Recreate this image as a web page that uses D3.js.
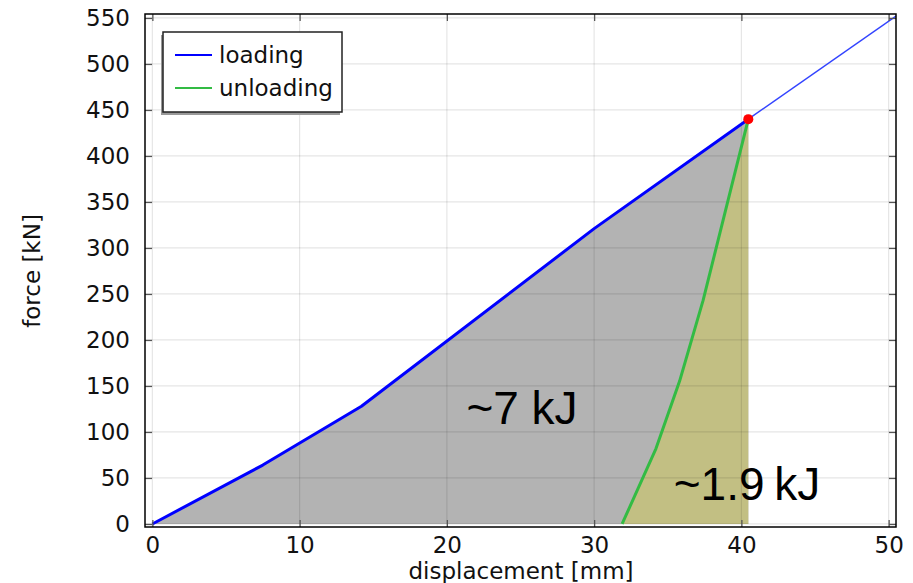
<!DOCTYPE html>
<html>
<head>
<meta charset="utf-8">
<script src="https://cdn.jsdelivr.net/npm/d3@7"></script>
<style>
  body { margin: 0; background: #fff; }
  text { font-family: "DejaVu Sans", sans-serif; }
</style>
</head>
<body>
<svg id="chart" width="913" height="583"></svg>
<script>
// data
const loadX = [0, 7.5, 14.2, 30, 40.47];
const loadY = [0, 64, 128, 321, 440];
const extX = [40.47, 50.5];
const extY = [440, 552];
const unloadX = [31.9, 34.2, 35.8, 37.4, 40.47];
const unloadY = [0, 82, 155, 243, 440];
const xTicks = [0, 10, 20, 30, 40, 50];
const yTicks = [0, 50, 100, 150, 200, 250, 300, 350, 400, 450, 500, 550];
const seriesNames = ["loading", "unloading"];
const energyLabels = ["~7 kJ", "~1.9 kJ"];

const mLeft = 145, mTop = 14, w = 751, h = 513;
const fs = 23;
const svg = d3.select("#chart");

const x = d3.scaleLinear().domain([-0.5, 50.5]).range([mLeft, mLeft + w]);
const y = d3.scaleLinear().domain([-3.3, 554.3]).range([mTop + h, mTop]);

const load = loadX.map((d, i) => [d, loadY[i]]);
const ext = extX.map((d, i) => [d, extY[i]]);
const unload = unloadX.map((d, i) => [d, unloadY[i]]);
const peak = load[load.length - 1];

svg.append("defs").append("clipPath").attr("id", "clip")
  .append("rect").attr("x", mLeft).attr("y", mTop).attr("width", w).attr("height", h);

const line = d3.line().x(d => x(d[0])).y(d => y(d[1]));
const area = d3.area().x(d => x(d[0])).y0(y(0)).y1(d => y(d[1]));

// filled areas
svg.append("path").attr("d", area(load)).attr("fill", "#b3b3b3");
const olive = unload.concat([[peak[0], 0]]);
svg.append("path").attr("d", line(olive) + "Z").attr("fill", "#c2bf83");

// grid
const g = svg.append("g");
g.selectAll(".gx").data(xTicks).join("line")
  .attr("x1", d => x(d)).attr("x2", d => x(d)).attr("y1", mTop).attr("y2", mTop + h)
  .attr("stroke", "rgba(0,0,0,0.1)").attr("stroke-width", 1.2);
g.selectAll(".gy").data(yTicks).join("line")
  .attr("y1", d => y(d)).attr("y2", d => y(d)).attr("x1", mLeft).attr("x2", mLeft + w)
  .attr("stroke", "rgba(0,0,0,0.1)").attr("stroke-width", 1.2);

// lines
const plot = svg.append("g").attr("clip-path", "url(#clip)");
plot.append("path").attr("d", line(ext)).attr("fill", "none")
  .attr("stroke", "#3344ff").attr("stroke-width", 1.4);
plot.append("path").attr("d", line(load)).attr("fill", "none")
  .attr("stroke", "#0000ff").attr("stroke-width", 3).attr("stroke-linejoin", "round");
plot.append("path").attr("d", line(unload)).attr("fill", "none")
  .attr("stroke", "#33bb44").attr("stroke-width", 3).attr("stroke-linejoin", "round");
plot.append("circle").attr("cx", x(peak[0])).attr("cy", y(peak[1])).attr("r", 5).attr("fill", "#ff0000");

// axes with inward ticks on all four sides
const tk = 7;
const axB = d3.axisBottom(x).tickValues(xTicks).tickSize(-tk).tickPadding(10);
const axT = d3.axisTop(x).tickValues(xTicks).tickSize(-tk).tickFormat("");
const axL = d3.axisLeft(y).tickValues(yTicks).tickSize(-tk).tickPadding(15);
const axR = d3.axisRight(y).tickValues(yTicks).tickSize(-tk).tickFormat("");

function style(sel) {
  sel.select(".domain").remove();
  sel.selectAll(".tick line").attr("stroke", "#555").attr("stroke-width", 1.3);
  sel.selectAll(".tick text").attr("font-size", fs).attr("fill", "#111")
    .attr("font-family", "DejaVu Sans, sans-serif");
}
svg.append("g").attr("transform", `translate(0,${mTop + h})`).call(axB).call(style);
svg.append("g").attr("transform", `translate(0,${mTop})`).call(axT).call(style);
svg.append("g").attr("transform", `translate(${mLeft},0)`).call(axL).call(style);
svg.append("g").attr("transform", `translate(${mLeft + w},0)`).call(axR).call(style);

svg.append("rect").attr("x", mLeft).attr("y", mTop).attr("width", w).attr("height", h)
  .attr("fill", "none").attr("stroke", "#000").attr("stroke-width", 1.5);

// axis titles
svg.append("text").attr("x", 521).attr("y", 579).attr("text-anchor", "middle")
  .attr("font-size", fs).attr("fill", "#111").text("displacement [mm]");
svg.append("text").attr("transform", "translate(40,271) rotate(-90)").attr("text-anchor", "middle")
  .attr("font-size", fs).attr("fill", "#111").text("force [kN]");

// energy labels
svg.append("text").attr("x", 522).attr("y", 424).attr("text-anchor", "middle")
  .attr("font-size", 46).style("font-family", "Liberation Sans, Arial, sans-serif")
  .attr("fill", "#000").text(energyLabels[0]);
svg.append("text").attr("x", 747).attr("y", 500).attr("text-anchor", "middle")
  .attr("font-size", 46).attr("word-spacing", -3).style("font-family", "Liberation Sans, Arial, sans-serif")
  .attr("fill", "#000").text(energyLabels[1]);

// legend
const lg = svg.append("g");
lg.append("rect").attr("x", 161).attr("y", 35).attr("width", 179).attr("height", 80).attr("fill", "#999");
lg.append("rect").attr("x", 163).attr("y", 32).attr("width", 179).attr("height", 80)
  .attr("fill", "#fff").attr("stroke", "#222").attr("stroke-width", 1.5);
const legColors = ["#0000ff", "#33bb44"];
seriesNames.forEach((n, i) => {
  const yy = 55 + i * 33;
  lg.append("line").attr("x1", 175).attr("x2", 212).attr("y1", yy).attr("y2", yy)
    .attr("stroke", legColors[i]).attr("stroke-width", 2);
  lg.append("text").attr("x", 219).attr("y", yy + 8).attr("font-size", fs)
    .attr("fill", "#111").text(n);
});
</script>
</body>
</html>
